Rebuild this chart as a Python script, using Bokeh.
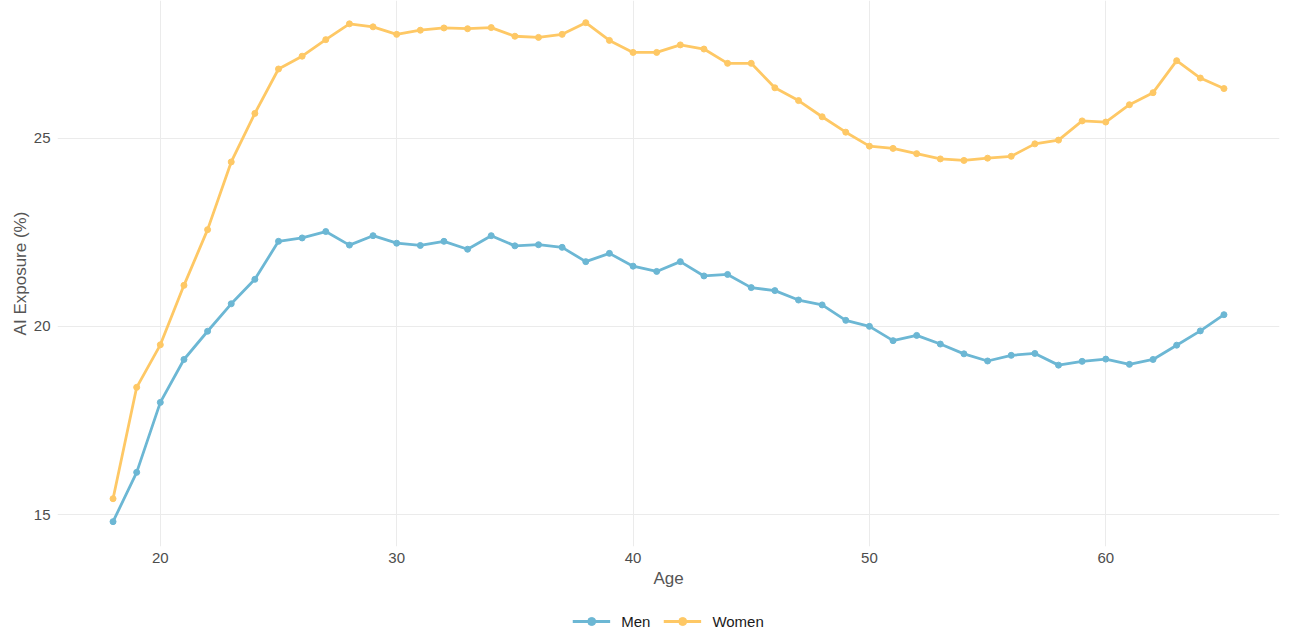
from bokeh.plotting import figure
from bokeh.layouts import column
from bokeh.models import Range1d, FixedTicker, Legend, LegendItem
from bokeh.embed import file_html
from bokeh.resources import INLINE

# Share of workers exposed to AI, by single year of age
ages = list(range(18, 66))

men = [14.81, 16.12, 17.98, 19.12, 19.87, 20.60, 21.25, 22.26, 22.35, 22.52,
       22.16, 22.41, 22.21, 22.15, 22.26, 22.05, 22.41, 22.14, 22.17, 22.10,
       21.72, 21.94, 21.60, 21.46, 21.72, 21.34, 21.38, 21.03, 20.95, 20.70,
       20.57, 20.16, 20.00, 19.62, 19.76, 19.53, 19.27, 19.08, 19.23, 19.28,
       18.97, 19.07, 19.13, 18.99, 19.12, 19.50, 19.88, 20.31]

women = [15.42, 18.38, 19.51, 21.09, 22.57, 24.37, 25.66, 26.84, 27.18, 27.62,
         28.04, 27.96, 27.76, 27.87, 27.93, 27.91, 27.94, 27.71, 27.68, 27.76,
         28.07, 27.60, 27.28, 27.28, 27.48, 27.37, 26.99, 26.99, 26.34, 26.00,
         25.57, 25.16, 24.79, 24.73, 24.59, 24.45, 24.41, 24.47, 24.52, 24.85,
         24.95, 25.46, 25.43, 25.89, 26.21, 27.06, 26.60, 26.32]

x_ticks = [20, 30, 40, 50, 60]
y_ticks = [15, 20, 25]

series_names = ["Men", "Women"]
series_colors = ["#6cb7d4", "#fec865"]

FONT = "Liberation Sans"
LINE_W = 2.8
DOT = 6

p = figure(
    width=1290, height=592,
    x_range=Range1d(15.65, 67.35),
    y_range=Range1d(14.15, 28.66),
    output_backend="svg", toolbar_location=None,
    min_border_left=57, min_border_right=11,
    min_border_top=0, min_border_bottom=46,
)
p.outline_line_color = None
p.background_fill_color = "white"
p.border_fill_color = "white"

# grid
for g in (p.xgrid, p.ygrid):
    g.grid_line_color = "#ebebeb"
    g.grid_line_width = 1
p.xgrid.ticker = FixedTicker(ticks=x_ticks)
p.ygrid.ticker = FixedTicker(ticks=y_ticks)

# axes
p.xaxis.ticker = FixedTicker(ticks=x_ticks)
p.yaxis.ticker = FixedTicker(ticks=y_ticks)
p.xaxis.axis_label = "Age"
p.yaxis.axis_label = "AI Exposure (%)"
for ax in (p.xaxis, p.yaxis):
    ax.axis_line_color = None
    ax.major_tick_line_color = None
    ax.minor_tick_line_color = None
    ax.major_tick_out = 0
    ax.major_tick_in = 0
    ax.major_label_text_font = FONT
    ax.major_label_text_font_size = "15px"
    ax.major_label_text_color = "#4d4d4d"
    ax.axis_label_text_font = FONT
    ax.axis_label_text_font_size = "17px"
    ax.axis_label_text_font_style = "normal"
    ax.axis_label_text_color = "#555555"
p.xaxis.major_label_standoff = 6
p.xaxis.axis_label_standoff = 3
p.yaxis.major_label_standoff = 7
p.yaxis.axis_label_standoff = 1

for vals, col in zip([men, women], series_colors):
    p.line(ages, vals, line_color=col, line_width=LINE_W)
    p.scatter(ages, vals, size=DOT, fill_color=col, line_color=col)

# legend strip under the chart; its key renderers sit outside the visible range
lg = figure(
    width=1290, height=46,
    x_range=Range1d(0, 1), y_range=Range1d(0, 1),
    output_backend="svg", toolbar_location=None,
    min_border_left=57, min_border_right=11,
    min_border_top=0, min_border_bottom=0,
)
lg.axis.visible = False
lg.grid.visible = False
lg.outline_line_color = None
lg.border_fill_color = "white"

items = []
for name, col in zip(series_names, series_colors):
    ln = lg.line([-10, -9], [-10, -10], line_color=col, line_width=LINE_W)
    pt = lg.scatter([-10], [-10], size=DOT, fill_color=col, line_color=col)
    items.append(LegendItem(label=name, renderers=[ln, pt]))

legend = Legend(items=items, orientation="horizontal", location="bottom")
legend.label_text_font = FONT
legend.label_text_font_size = "15px"
legend.label_text_color = "#1a1a1a"
legend.border_line_color = None
legend.background_fill_alpha = 0
legend.glyph_width = 38
legend.glyph_height = 20
legend.label_standoff = 11
legend.spacing = 13
legend.margin = 7
legend.padding = 4
lg.add_layout(legend, "center")

layout = column(p, lg, spacing=0)
open("out.html", "w").write(file_html(layout, INLINE))
